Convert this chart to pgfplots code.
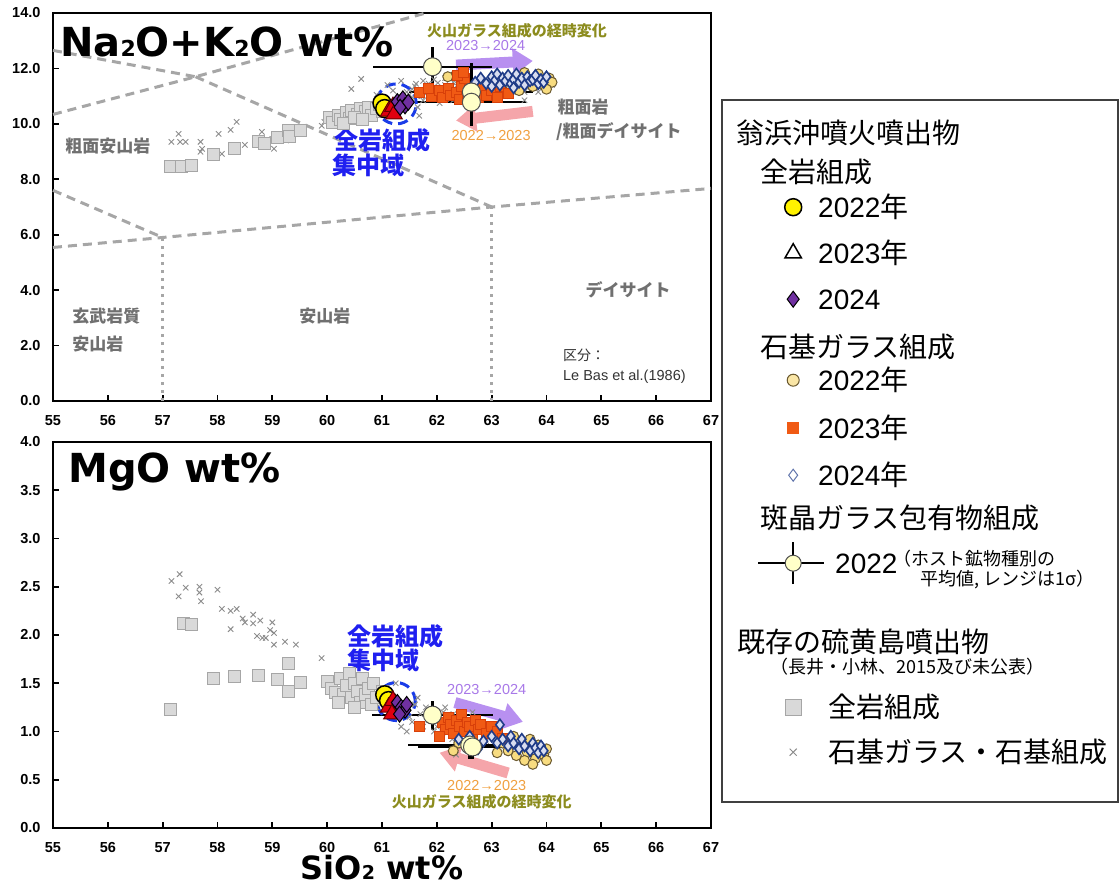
\documentclass[border=0pt]{standalone}
\usepackage{pgfplots}
\pgfplotsset{compat=1.18}
\usepackage{fontspec}
\setmainfont{Liberation Sans}
\newfontfamily\jp{Noto Sans CJK JP}
\newfontfamily\dv{DejaVu Sans}
\usetikzlibrary{arrows.meta}
\definecolor{gsqfill}{HTML}{D9D9D9}
\definecolor{gsqdraw}{HTML}{A6A6A6}
\definecolor{gxc}{HTML}{8C8C8C}
\definecolor{wrred}{HTML}{E00010}
\definecolor{wrpur}{HTML}{7030A0}
\definecolor{gg22f}{HTML}{F8DC80}
\definecolor{gg22d}{HTML}{6B5A30}
\definecolor{gg23f}{HTML}{F05A14}
\definecolor{gg23d}{HTML}{D8400A}
\definecolor{gg24d}{HTML}{1F3C88}
\definecolor{gg24f}{HTML}{D8DDF0}
\definecolor{mifill}{HTML}{FFFFC8}
\definecolor{midraw}{HTML}{505050}
\definecolor{annblue}{HTML}{1F1FF0}
\definecolor{circblue}{HTML}{1A3CE8}
\definecolor{txtpur}{HTML}{A878E8}
\definecolor{arrpur}{HTML}{B890F0}
\definecolor{txtorg}{HTML}{F0A040}
\definecolor{arrpink}{HTML}{F5A5AA}
\definecolor{olivetxt}{HTML}{8C8C1E}
\definecolor{fieldgray}{HTML}{707070}
\definecolor{tasgray}{HTML}{A6A6A6}
\definecolor{legframe}{HTML}{404040}
\pgfplotsset{
  myax/.style={scale only axis, xmin=55, xmax=67, xtick={55,56,...,67}, clip=false,
    tick align=inside, xtick pos=left, ytick pos=left, major tick length=6pt,
    tick style={line width=1.8pt, black}, axis line style={line width=2.5pt},
    ticklabel style={font=\fontsize{14.5}{14.5}\selectfont\bfseries},
    /pgf/number format/assume math mode=true,
    yticklabel style={/pgf/number format/fixed, /pgf/number format/fixed zerofill, /pgf/number format/precision=1, xshift=-9pt},
    xticklabel style={yshift=-11pt}},
  gsq/.style={only marks, mark=square*, mark size=6pt, mark options={fill=gsqfill, draw=gsqdraw, line width=0.8pt}},
  gx/.style={only marks, mark=x, mark size=3.8pt, mark options={draw=gxc, line width=0.9pt}},
  wr22/.style={only marks, mark=*, mark size=9pt, mark options={fill=yellow, draw=black, line width=1.5pt}},
  wr23/.style={only marks, mark=triangle*, mark size=9.5pt, mark options={fill=wrred, draw=black!60!red, line width=1pt}},
  wr24/.style={only marks, mark=diamond*, mark size=8pt, mark options={fill=wrpur, draw=black, line width=1pt}},
  gg22/.style={only marks, mark=*, mark size=5pt, mark options={fill=gg22f, draw=gg22d, line width=1pt}},
  gg23/.style={only marks, mark=square*, mark size=5pt, mark options={fill=gg23f, draw=gg23d, line width=0.5pt}},
  gg24/.style={only marks, mark=diamond*, mark size=5.5pt, mark options={fill=gg24f, draw=gg24d, line width=1.6pt}},
  mi/.style={only marks, mark=*, mark size=9pt, mark options={fill=mifill, draw=midraw, line width=1pt}},
  mieb/.style={only marks, mark=none, error bars/x dir=both, error bars/x explicit, error bars/y dir=both, error bars/y explicit, error bars/error mark=none, error bars/error bar style={line width=2.5pt, draw=black}},
}
\tikzset{
  tas/.style={draw=tasgray, line width=3pt, dash pattern=on 9pt off 6pt},
  tasv/.style={draw=tasgray, line width=3pt, dash pattern=on 3pt off 5pt},
  bigarr/.style={line width=11pt, -{Triangle[length=20pt, width=26pt]}},
  bluecirc/.style={draw=circblue, line width=3pt, dash pattern=on 10pt off 6pt},
  fieldlbl/.style={font=\jp\bfseries\fontsize{17}{17}\selectfont, text=fieldgray, inner sep=0pt},
}
\begin{document}
\begin{tikzpicture}[x=1pt,y=1pt]
\path[use as bounding box] (0,0) rectangle (1120,891);
\draw[legframe, line width=2pt] (722,89) rectangle (1118,791);
% ================= TOP: TAS =================
\begin{axis}[myax, at={(53pt,490pt)}, anchor=south west, width=658pt, height=388pt,
  ymin=0, ymax=14, ytick={0,2,...,14},
  legend cell align=left,
  legend style={at={(1.10638,0.72938)}, anchor=north west, draw=none, fill=none, inner sep=0pt,
    column sep=13pt, row sep=0pt, nodes={inner sep=0pt}, font=\fontsize{28}{28}\selectfont},
  legend image code/.code={\path[draw=none, fill=none] (-12pt,0pt) -- (12pt,0pt); \draw[#1] plot coordinates {(0pt,0pt)};}]
% TAS boundaries (Le Bas et al., 1986)
\draw[tas] (axis cs:55,12.65) -- (axis cs:57.6,11.7);
\draw[tas] (axis cs:55,10.34) -- (axis cs:57.6,11.7) -- (axis cs:61.8,14);
\draw[tas] (axis cs:57.6,11.7) -- (axis cs:63,7);
\draw[tas] (axis cs:55,7.6) -- (axis cs:57,5.9);
\draw[tas] (axis cs:55,5.54) -- (axis cs:57,5.9) -- (axis cs:63,7) -- (axis cs:67,7.67);
\draw[tasv] (axis cs:57,0) -- (axis cs:57,5.9);
\draw[tasv] (axis cs:63,0) -- (axis cs:63,7);
% field labels
\node[fieldlbl] at (axis cs:56.0,9.21) {粗面安山岩};
\node[fieldlbl, anchor=west] at (axis cs:55.35,3.07) {玄武岩質};
\node[fieldlbl, anchor=west] at (axis cs:55.35,2.06) {安山岩};
\node[fieldlbl] at (axis cs:59.96,3.07) {安山岩};
\node[fieldlbl, anchor=west] at (axis cs:64.2,10.61) {粗面岩};
\node[fieldlbl, anchor=west] at (axis cs:64.17,9.71) {/粗面デイサイト};
\node[fieldlbl] at (axis cs:65.49,4.01) {デイサイト};
\node[anchor=west, inner sep=0pt, font=\jp\fontsize{14}{14}\selectfont, text=black!80] at (axis cs:64.3,1.66) {区分：};
\node[anchor=west, inner sep=0pt, font=\fontsize{14.5}{14.5}\selectfont, text=black!80] at (axis cs:64.3,0.87) {Le Bas et al.(1986)};
% existing Iwo-jima: groundmass glass
\addplot[gx, forget plot] coordinates {
(57.16,9.35) (57.29,9.64) (57.32,9.35) (57.42,9.35) (57.69,9.35) (57.69,8.99) (57.72,9.10)
(58.02,9.64) (58.08,8.92) (58.24,9.78) (58.35,10.07) (58.50,9.24) (58.70,9.46) (58.81,9.71)
(58.88,9.35) (59.00,9.46) (59.03,9.10) (59.18,9.57) (59.25,9.40) (59.90,9.93) (59.95,10.07)
(60.44,11.26) (60.62,11.62) (60.90,11.05) (61.05,10.95) (61.20,11.20) (61.30,11.00) (61.40,10.80)
(61.45,11.15) (61.55,10.95) (61.60,11.35) (61.65,10.60) (61.70,11.10) (61.75,10.85) (61.80,11.25)
(61.85,11.45) (61.90,10.95) (61.95,11.15) (62.00,11.30) (62.05,10.75) (62.10,11.05) (62.15,11.40)
(62.20,11.20) (62.25,10.90) (62.30,11.50) (62.35,11.10) (62.40,11.30) (62.45,10.95) (62.50,11.25)
(62.55,11.45) (62.60,11.05) (62.70,11.35) (62.80,11.20) (62.90,11.50) (63.00,11.30) (63.10,11.15)
(63.20,11.45) (63.30,11.25) (63.40,11.55) (63.50,11.35) (63.60,11.15) (63.70,11.45) (63.80,11.30)
(61.68,10.29) (61.30,10.30) (61.10,11.40) (63.60,10.85) (63.90,11.50) (64.10,11.40) (61.35,11.55)
(61.55,11.25) (61.75,11.55) (61.95,11.60) (62.15,11.65) (61.50,11.05) (61.90,11.00) (62.30,10.85)
(61.62,11.45) (61.72,11.00) (61.82,11.12) (62.02,11.48) (62.12,11.22) (62.22,11.00) (62.28,11.35)
(62.38,11.42) (62.48,11.08) (62.58,11.32) (62.68,11.18) (62.78,10.92) (62.88,11.30) (63.05,11.05)
(63.25,11.00) (63.45,11.15) (63.65,11.30) (63.85,11.15) (64.00,11.30)
};
% existing Iwo-jima: whole rock
\addplot[gsq, forget plot] coordinates {
(57.14,8.45) (57.35,8.45) (57.53,8.50) (57.93,8.88) (58.30,9.12) (58.75,9.35) (58.85,9.30)
(59.10,9.50) (59.30,9.75) (59.32,9.55) (59.52,9.78) (60.04,10.25) (60.10,10.05) (60.20,10.30)
(60.25,10.15) (60.35,10.40) (60.40,10.20) (60.45,10.50) (60.55,10.35) (60.60,10.55) (60.70,10.45)
(60.75,10.60) (60.80,10.30) (60.90,10.55) (60.95,10.70) (61.00,10.45) (61.10,10.60) (60.30,10.00)
(60.50,10.25) (60.65,10.15)
};
% arrows
\draw[bigarr, arrpur] (axis cs:62.35,12.12) -- (axis cs:63.75,12.27);
\draw[bigarr, arrpink] (axis cs:63.75,10.45) -- (axis cs:62.35,10.12);
% groundmass glass 2022
\addplot[gg22, forget plot] coordinates {
(62.33,11.73) (62.45,11.55) (63.75,11.35) (63.85,11.80) (63.95,11.40) (64.05,11.65) (64.10,11.50)
(63.60,11.85) (63.20,11.40) (62.20,11.70) (63.50,11.20) (64.00,11.25)
};
% groundmass glass 2023
\addplot[gg23, forget plot] coordinates {
(61.68,11.15) (61.90,11.00) (62.05,11.20) (62.10,10.95) (62.20,11.30) (62.25,11.05) (62.35,11.15)
(62.40,10.90) (62.45,11.35) (62.50,11.65) (62.55,11.00) (62.60,11.25) (62.70,11.10) (62.75,10.95)
(62.80,11.30) (62.90,11.05) (63.00,11.20) (63.10,10.95) (63.15,11.35) (62.38,11.75) (62.48,11.85)
(63.30,11.10) (61.85,11.30)
};
% groundmass glass 2024
\addplot[gg24, forget plot] coordinates {
(62.70,11.50) (62.80,11.65) (62.90,11.45) (63.00,11.70) (63.05,11.55) (63.10,11.80) (63.15,11.40)
(63.20,11.65) (63.25,11.55) (63.30,11.75) (63.35,11.45) (63.40,11.60) (63.45,11.80) (63.50,11.50)
(63.55,11.65) (63.60,11.40) (63.65,11.70) (63.70,11.55) (63.75,11.60) (63.80,11.75) (63.85,11.45)
(63.90,11.60) (63.95,11.50) (64.00,11.70) (63.00,11.35) (63.40,11.30)
};
% melt inclusions 2022 (mean, 1 sigma)
\addplot[forget plot, mieb] table[x=x, y=y, x error=ex, y error=ey] {
x y ex ey
61.92 12.06 1.08 0.72
62.63 11.15 1.13 1.05
62.63 10.78 1.00 0.85
};
\addplot[mi, forget plot] coordinates {(61.92,12.06) (62.63,11.15) (62.63,10.78)};
% whole rock
\addplot[wr22, forget plot] coordinates {(61.00,10.75) (61.05,10.55)};
\addplot[wr23, forget plot] coordinates {(61.12,10.45) (61.20,10.62) (61.22,10.35)};
\addplot[wr24, forget plot] coordinates {(61.28,10.80) (61.38,10.90) (61.42,10.65) (61.33,10.60) (61.48,10.78)};
\draw[bluecirc] (axis cs:61.26,10.72) circle[radius=20pt];
% annotations
\node[anchor=west, inner sep=0pt, font=\jp\bfseries\fontsize{24}{24}\selectfont, text=annblue] at (axis cs:60.13,9.39) {全岩組成};
\node[anchor=west, inner sep=0pt, font=\jp\bfseries\fontsize{24}{24}\selectfont, text=annblue] at (axis cs:60.09,8.52) {集中域};
\node[inner sep=0pt, font=\jp\bfseries\fontsize{15}{15}\selectfont, text=olivetxt] at (axis cs:63.46,13.36) {火山ガラス組成の経時変化};
\node[inner sep=0pt, font=\fontsize{14.5}{14.5}\selectfont, text=txtpur] at (axis cs:62.89,12.82) {2023→2024};
\node[inner sep=0pt, font=\fontsize{14.5}{14.5}\selectfont, text=txtorg] at (axis cs:62.99,9.57) {2022→2023};
\node[anchor=base west, inner sep=0pt, font=\dv\bfseries\fontsize{40}{40}\selectfont] at (axis description cs:0.0106,0.8866) {Na{\fontsize{22}{22}\selectfont 2}O+K{\fontsize{22}{22}\selectfont 2}O wt\%};
% ---------- legend ----------
\addlegendimage{empty legend}
\addlegendentry[text height=25.5pt, text depth=8.5pt]{\hspace*{-82pt}\jp 翁浜沖噴火噴出物}
\addlegendimage{empty legend}
\addlegendentry[text height=30.5pt, text depth=1.5pt]{\hspace*{-58pt}\jp 全岩組成}
\addlegendimage{only marks, mark=*, mark size=8.5pt, mark options={fill=yellow, draw=black, line width=1.5pt}}
\addlegendentry[text height=33.5pt, text depth=12.5pt]{2022{\jp 年}}
\addlegendimage{only marks, mark=triangle*, mark size=9.5pt, mark options={fill=white, draw=black, line width=1.5pt}}
\addlegendentry[text height=33.5pt, text depth=12.5pt]{2023{\jp 年}}
\addlegendimage{only marks, mark=diamond*, mark size=8pt, mark options={fill=wrpur, draw=black, line width=1pt}}
\addlegendentry[text height=33.5pt, text depth=12.5pt]{2024}
\addlegendimage{empty legend}
\addlegendentry[text height=35.5pt, text depth=0.5pt]{\hspace*{-58pt}\jp 石基ガラス組成}
\addlegendimage{only marks, mark=*, mark size=6pt, mark options={fill=gg22f!70!white, draw=gg22d, line width=1pt}}
\addlegendentry[text height=32.5pt, text depth=11.5pt]{2022{\jp 年}}
\addlegendimage{only marks, mark=square*, mark size=5.5pt, mark options={fill=gg23f, draw=gg23f, line width=0.5pt}}
\addlegendentry[text height=36.5pt, text depth=15.5pt]{2023{\jp 年}}
\addlegendimage{only marks, mark=diamond*, mark size=6pt, mark options={fill=white, draw=gg24d!70!white, line width=1pt}}
\addlegendentry[text height=31.5pt, text depth=10.5pt]{2024{\jp 年}}
\addlegendimage{empty legend}
\addlegendentry[text height=32.5pt, text depth=9.5pt]{\hspace*{-58pt}\jp 斑晶ガラス包有物組成}
\addlegendimage{legend image code/.code={\draw[overlay, black, line width=2pt] (-35pt,0pt) -- (31pt,0pt); \draw[overlay, black, line width=2pt] (0pt,-21pt) -- (0pt,21pt); \draw[fill=mifill, draw=midraw, line width=1pt] (0pt,0pt) circle[radius=8pt]; \path[draw=none] (-12pt,0pt) -- (12pt,0pt);}}
\addlegendentry[text height=35pt, text depth=15pt]{\hspace*{17pt}\rlap{\hspace{58pt}\raisebox{7.9pt}{\jp\fontsize{18}{18}\selectfont （ホスト鉱物種別の}}\rlap{\hspace{85pt}\raisebox{-12.1pt}{\jp\fontsize{18}{18}\selectfont 平均値, レンジは1σ）}}2022}
\addlegendimage{empty legend}
\addlegendentry[text height=64.5pt, text depth=6.5pt]{\hspace*{-81pt}\jp 既存の硫黄島噴出物}
\addlegendimage{empty legend}
\addlegendentry[text height=14.8pt, text depth=11.2pt]{\hspace*{-48pt}\jp\fontsize{18}{18}\selectfont （長井・小林、2015及び未公表）}
\addlegendimage{only marks, mark=square*, mark size=8pt, mark options={fill=gsqfill, draw=gsqdraw, line width=1pt}}
\addlegendentry[text height=32.5pt, text depth=11.5pt]{\hspace*{10pt}\jp 全岩組成}
\addlegendimage{only marks, mark=x, mark size=5pt, mark options={draw=gxc, line width=1pt}}
\addlegendentry[text height=33.5pt, text depth=12.5pt]{\hspace*{10pt}\jp 石基ガラス・石基組成}
\end{axis}
% ================= BOTTOM: MgO =================
\begin{axis}[myax, at={(53pt,63pt)}, anchor=south west, width=658pt, height=386pt,
  ymin=0, ymax=4, ytick={0,0.5,1,1.5,2,2.5,3,3.5,4},
  xlabel={SiO{\fontsize{19}{19}\selectfont 2} wt\%},
  xlabel style={at={(axis description cs:0.5,0)}, anchor=base, yshift=-52pt, font=\dv\bfseries\fontsize{32}{32}\selectfont}]
\addplot[gx, forget plot] coordinates {
(57.16,2.56) (57.31,2.63) (57.29,2.40) (57.42,2.49) (57.67,2.50) (57.67,2.44) (57.70,2.35)
(58.00,2.47) (58.08,2.27) (58.24,2.25) (58.35,2.27) (58.24,2.06) (58.46,2.17) (58.50,2.13)
(58.65,2.21) (58.65,2.12) (58.78,2.15) (58.72,1.99) (58.82,1.97) (58.88,1.97) (59.00,2.13)
(58.96,2.05) (59.03,2.02) (59.03,1.90) (59.23,1.93) (59.43,1.90) (59.90,1.76)
(60.40,1.40) (60.70,1.30) (60.90,1.25) (61.10,1.35) (61.30,1.15) (61.45,1.22) (61.55,1.10)
(61.60,1.28) (61.70,1.18) (61.75,1.05) (61.85,1.12) (61.90,1.22) (62.00,1.05) (62.05,1.15)
(62.10,0.98) (62.20,1.10) (62.25,1.02) (62.30,1.18) (62.40,0.95) (62.45,1.08) (62.55,1.00)
(62.60,1.12) (62.70,0.92) (62.80,1.02) (62.90,0.90) (63.00,0.98) (63.10,0.88) (63.20,0.95)
(63.30,0.85) (63.40,0.92) (63.50,0.82) (61.25,1.50) (61.45,1.00) (62.35,0.76) (61.65,1.35)
(62.15,1.25) (61.35,1.05) (62.65,1.20) (61.50,1.15) (61.80,1.25) (61.95,1.00) (62.12,1.20)
(62.28,0.92) (62.50,1.15) (62.75,1.00) (62.95,1.05) (63.15,0.92) (63.35,0.90) (63.60,0.86)
};
\addplot[gsq, forget plot] coordinates {
(57.14,1.23) (57.37,2.12) (57.53,2.11) (57.93,1.55) (58.30,1.57) (58.74,1.58) (59.10,1.54)
(59.30,1.71) (59.30,1.42) (59.52,1.51) (60.00,1.52) (60.08,1.45) (60.15,1.40) (60.25,1.55)
(60.30,1.38) (60.35,1.48) (60.40,1.60) (60.45,1.35) (60.50,1.50) (60.55,1.42) (60.60,1.30)
(60.65,1.55) (60.70,1.38) (60.75,1.45) (60.80,1.28) (60.85,1.50) (60.90,1.35) (61.00,1.42)
(60.20,1.30) (60.50,1.25)
};
\draw[bigarr, arrpur] (axis cs:62.33,1.30) -- (axis cs:63.57,1.10);
\draw[bigarr, arrpink] (axis cs:63.30,0.57) -- (axis cs:62.05,0.78);
\addplot[gg22, forget plot] coordinates {
(62.40,0.88) (62.30,0.80) (63.20,0.88) (63.30,0.80) (63.40,0.95) (63.45,0.75) (63.55,0.85)
(63.65,0.78) (63.70,0.92) (63.80,0.72) (63.85,0.86) (63.95,0.76) (64.00,0.82) (63.60,0.70)
(63.10,0.78) (63.75,0.66) (64.00,0.70)
};
\addplot[gg23, forget plot] coordinates {
(61.68,1.05) (62.10,1.10) (62.15,1.02) (62.20,1.15) (62.25,1.08) (62.30,0.98) (62.35,1.12)
(62.40,1.05) (62.45,1.18) (62.50,1.00) (62.55,1.10) (62.60,1.05) (62.65,0.95) (62.70,1.12)
(62.75,1.02) (62.80,1.08) (62.90,0.98) (63.00,1.05) (63.10,1.00) (62.05,0.95) (63.20,0.93)
};
\addplot[gg24, forget plot] coordinates {
(62.40,0.92) (62.60,0.95) (62.85,0.90) (63.00,0.95) (63.10,0.88) (63.15,1.07) (63.20,0.92)
(63.30,0.85) (63.35,0.95) (63.40,0.88) (63.50,0.82) (63.55,0.92) (63.60,0.85) (63.70,0.80)
(63.75,0.88) (63.80,0.83) (63.85,0.78) (63.90,0.85) (63.95,0.80) (62.75,0.82)
};
\addplot[forget plot, mieb] table[x=x, y=y, x error=ex, y error=ey] {
x y ex ey
61.92 1.17 1.10 0.15
62.60 0.86 1.13 0.14
62.65 0.84 1.00 0.12
};
\addplot[mi, forget plot] coordinates {(61.92,1.17) (62.60,0.86) (62.65,0.84)};
\addplot[wr22, forget plot] coordinates {(61.05,1.38) (61.12,1.32)};
\addplot[wr23, forget plot] coordinates {(61.12,1.25) (61.20,1.32) (61.18,1.18)};
\addplot[wr24, forget plot] coordinates {(61.28,1.30) (61.35,1.25) (61.42,1.22) (61.32,1.18) (61.45,1.28)};
\draw[bluecirc] (axis cs:61.26,1.31) circle[radius=19pt];
\node[anchor=west, inner sep=0pt, font=\jp\bfseries\fontsize{24}{24}\selectfont, text=annblue] at (axis cs:60.37,1.985) {全岩組成};
\node[anchor=west, inner sep=0pt, font=\jp\bfseries\fontsize{24}{24}\selectfont, text=annblue] at (axis cs:60.37,1.74) {集中域};
\node[inner sep=0pt, font=\fontsize{14.5}{14.5}\selectfont, text=txtpur] at (axis cs:62.91,1.43) {2023→2024};
\node[inner sep=0pt, font=\fontsize{14.5}{14.5}\selectfont, text=txtorg] at (axis cs:62.91,0.44) {2022→2023};
\node[inner sep=0pt, font=\jp\bfseries\fontsize{15}{15}\selectfont, text=olivetxt] at (axis cs:62.82,0.27) {火山ガラス組成の経時変化};
\node[anchor=base west, inner sep=0pt, font=\dv\bfseries\fontsize{40}{40}\selectfont] at (axis description cs:0.0228,0.8938) {MgO wt\%};
\end{axis}
\end{tikzpicture}
\end{document}
